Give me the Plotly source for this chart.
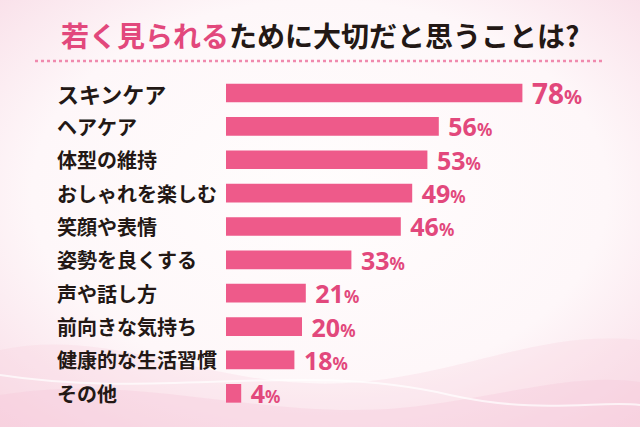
import base64
import plotly.graph_objects as go

# Data
categories = ['スキンケア', 'ヘアケア', '体型の維持', 'おしゃれを楽しむ', '笑顔や表情',
              '姿勢を良くする', '声や話し方', '前向きな気持ち', '健康的な生活習慣', 'その他']
values = [78, 56, 53, 49, 46, 33, 21, 20, 18, 4]

PINK = '#EE5A8A'
TEXT_PINK = '#E2487C'
DARK = '#231815'
FONT = 'Noto Sans CJK JP'

W, H = 640, 427
L, R, T, B = 226, 34, 75, 17
pw, ph = W - L - R, H - T - B

# Soft pink background (radial gradient + waves) as an inline svg
bg_svg = f'''<svg xmlns="http://www.w3.org/2000/svg" width="{W}" height="{H}" viewBox="0 0 {W} {H}">
<defs>
<radialGradient id="g" cx="0.5" cy="0.45" r="0.75">
<stop offset="0" stop-color="#FFFDFD"/>
<stop offset="0.6" stop-color="#FEF7F9"/>
<stop offset="1" stop-color="#F8DAE5"/>
</radialGradient>
</defs>
<rect width="{W}" height="{H}" fill="url(#g)"/>
<path d="M0,350 C120,325 220,395 360,382 C470,372 540,330 640,340 L640,427 L0,427 Z" fill="#F7CFDD" opacity="0.3"/>
<path d="M0,395 C140,372 260,420 400,408 C500,398 570,372 640,382 L640,427 L0,427 Z" fill="#F5C4D6" opacity="0.3"/>
<path d="M0,375 C160,400 300,360 450,395 C540,415 600,400 640,405" fill="none" stroke="#FFFFFF" stroke-width="2" opacity="0.7"/>
</svg>'''
bg_uri = 'data:image/svg+xml;base64,' + base64.b64encode(bg_svg.encode()).decode()

# Value labels with smaller percent sign
value_text = []
for i, v in enumerate(values):
    size = 28 if i == 0 else 25
    value_text.append(f'&nbsp;<b><span style="font-size:{size}px">{v}</span>'
                      f'<span style="font-size:{size - 8}px">%</span></b>')

fig = go.Figure(go.Bar(
    x=values, y=categories, orientation='h',
    marker=dict(color=PINK, line=dict(width=0)),
    width=0.56,
    text=value_text, textposition='outside', cliponaxis=False,
    constraintext='none',
    textfont=dict(family='Noto Sans', color=TEXT_PINK, size=25),
    hoverinfo='skip',
))

# Category labels, left aligned
for i, c in enumerate(categories):
    fig.add_annotation(
        x=(55 - L) / pw, xref='paper', xanchor='left',
        y=c, yref='y', yanchor='middle',
        text=f'<b>{c}</b>', showarrow=False,
        font=dict(family=FONT, size=22 if i == 0 else 20, color=DARK),
    )

# Title
fig.add_annotation(
    x=0.5 * W / pw - L / pw, xref='paper', xanchor='center',
    y=1 + (T - 35) / ph, yref='paper', yanchor='middle',
    text=f'<b><span style="color:{TEXT_PINK}">若く見られる</span>ために大切だと思うことは?</b>',
    showarrow=False, font=dict(family=FONT, size=28, color=DARK),
)

# Dotted divider under title
fig.add_shape(
    type='line', xref='paper', yref='paper',
    x0=(35 - L) / pw, x1=(605 - L) / pw,
    y0=1 + (T - 61) / ph, y1=1 + (T - 61) / ph,
    line=dict(color='#F08AAE', width=2.5, dash='dot'),
)

fig.add_layout_image(
    source=bg_uri, xref='paper', yref='paper',
    x=-L / pw, y=1 + T / ph, sizex=W / pw, sizey=H / ph,
    xanchor='left', yanchor='top', sizing='stretch', layer='below',
)

fig.update_layout(
    width=W, height=H,
    margin=dict(l=L, r=R, t=T, b=B),
    paper_bgcolor='#FDF1F5', plot_bgcolor='rgba(0,0,0,0)',
    showlegend=False, bargap=0.44,
    xaxis=dict(range=[0, 100], visible=False, fixedrange=True),
    yaxis=dict(autorange='reversed', visible=False, fixedrange=True),
)

fig.write_html('out.html', config={'displayModeBar': False},
               post_script="document.body.style.margin='0';document.body.style.overflow='hidden';")
